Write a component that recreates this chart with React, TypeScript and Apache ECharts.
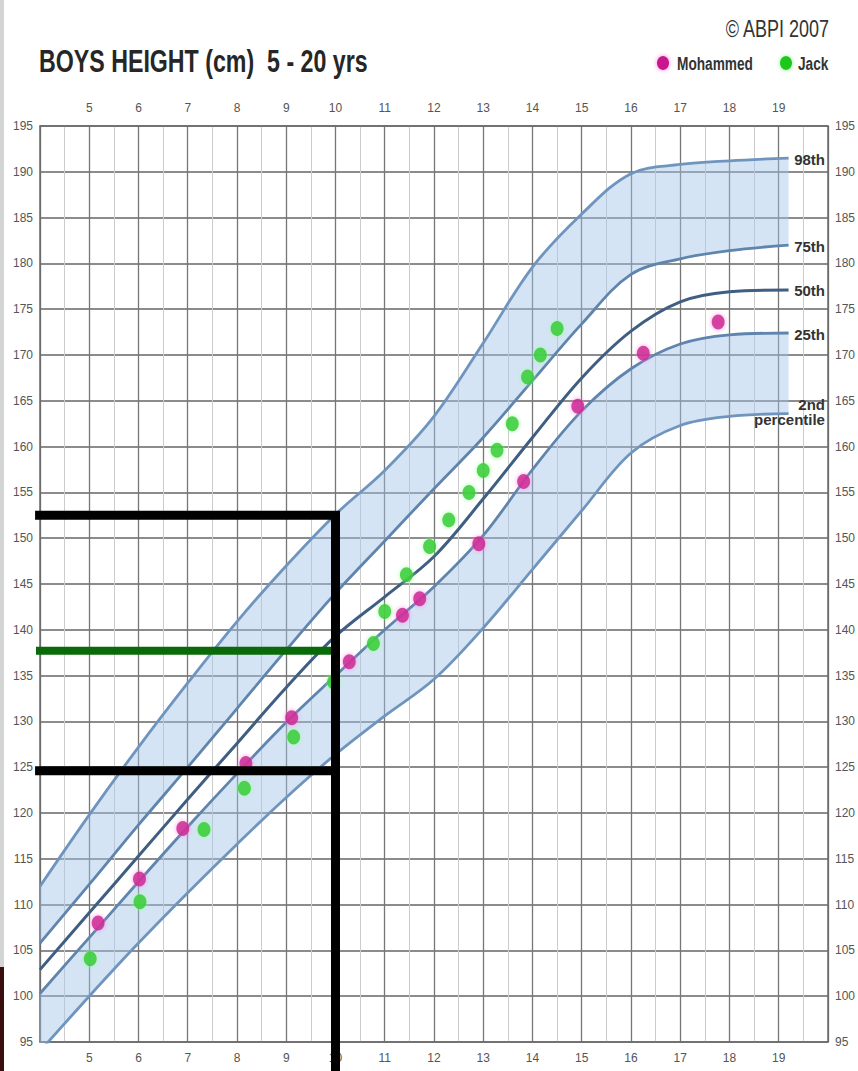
import React, { useEffect, useRef } from "react";
import * as echarts from "echarts";

// ---- data ----
const ages = [4, 5, 6, 7, 8, 9, 10, 11, 12, 13, 14, 15, 16, 17, 18, 19.2];
const p98 = [112.0, 119.8, 127.2, 134.2, 140.9, 147.0, 152.6, 157.4, 163.3, 171.3, 179.6, 185.4, 189.8, 190.8, 191.2, 191.5];
const p75 = [105.8, 112.2, 118.7, 125.0, 131.4, 137.8, 144.0, 149.7, 155.4, 161.0, 167.2, 173.4, 178.8, 180.5, 181.4, 182.0];
const p50 = [102.9, 109.1, 115.3, 121.5, 127.6, 133.7, 139.3, 143.6, 148.0, 154.3, 161.0, 167.5, 172.6, 175.8, 176.9, 177.1];
const p25 = [100.3, 106.4, 112.5, 118.5, 124.3, 129.9, 135.0, 140.0, 144.7, 150.3, 157.5, 163.9, 168.5, 171.2, 172.2, 172.4];
const p2 = [94.0, 100.0, 105.8, 111.3, 116.6, 121.7, 126.4, 130.6, 134.6, 140.2, 146.6, 153.0, 159.3, 162.3, 163.3, 163.6];
const percentileNames = ["98th", "75th", "50th", "25th", "2nd"];

const mohammedAges = [5.18, 6.02, 6.9, 8.18, 9.11, 10.28, 11.36, 11.71, 12.91, 13.82, 14.92, 16.25, 17.77];
const mohammedHeights = [108.0, 112.8, 118.3, 125.4, 130.4, 136.5, 141.6, 143.4, 149.4, 156.2, 164.4, 170.2, 173.6];
const jackAges = [5.02, 6.03, 7.33, 8.15, 9.15, 9.96, 10.77, 11.0, 11.44, 11.91, 12.3, 12.71, 13.0, 13.28, 13.59, 13.9, 14.16, 14.5];
const jackHeights = [104.1, 110.3, 118.2, 122.7, 128.3, 134.3, 138.5, 142.0, 146.0, 149.1, 152.0, 155.0, 157.4, 159.6, 162.5, 167.6, 170.0, 172.9];

const ageTickLabels = [5, 6, 7, 8, 9, 10, 11, 12, 13, 14, 15, 16, 17, 18, 19];
const heightTickLabels = [95, 100, 105, 110, 115, 120, 125, 130, 135, 140, 145, 150, 155, 160, 165, 170, 175, 180, 185, 190, 195];

// guide lines drawn on the chart (age / height values)
const guideAge = 10;
const guideStartAge = 3.9;
const guideEndHeight = 91.5;
const blackUpperHeight = 152.5;
const blackLowerHeight = 124.6;
const greenHeight = 137.7;

const FONT = "'Liberation Sans', Arial, sans-serif";
const NARROW = "'Liberation Sans Narrow', 'Arial Narrow', 'Liberation Sans', sans-serif";

const BAND = "rgba(160,195,232,0.45)";
const LINE_LIGHT = "#6f95bf";
const LINE_MID = "#5f84ad";
const LINE_DARK = "#3f5e82";
const MAGENTA = "#c8148c";
const GREEN = "#1ec81e";

const pts = (ys: number[]) => ages.map((a, i) => [a, ys[i]]);
// height first, age second (encode swaps them) so that stacking happens on the height dimension
const ptsHA = (ys: number[]) => ages.map((a, i) => [ys[i], a]);
const diffHA = (a: number[], b: number[]) => ages.map((x, i) => [+(a[i] - b[i]).toFixed(2), x]);
const pairs = (xs: number[], ys: number[]) => xs.map((x, i) => [x, ys[i]]);

const SMOOTH = 0.35;

function buildOption(): any {
  const axisLabelStyle = { color: "#555", fontSize: 12, fontFamily: NARROW };
  const xLabel = (v: number) => (ageTickLabels.indexOf(v) >= 0 ? String(v) : "");
  const yLabel = (v: number) => (heightTickLabels.indexOf(v) >= 0 ? String(v) : "");
  const bandBase = (name: string, stack: string, ys: number[]) => ({
    type: "line", name, stack, data: ptsHA(ys), encode: { x: 1, y: 0 }, symbol: "none", smooth: SMOOTH,
    lineStyle: { opacity: 0 }, silent: true, z: 1,
  });
  const bandTop = (name: string, stack: string, top: number[], base: number[]) => ({
    type: "line", name, stack, data: diffHA(top, base), encode: { x: 1, y: 0 }, symbol: "none", smooth: SMOOTH,
    lineStyle: { opacity: 0 }, areaStyle: { color: BAND, opacity: 1 }, silent: true, z: 1,
  });
  const pLine = (name: string, ys: number[], color: string, width: number) => ({
    type: "line", name, data: pts(ys), symbol: "none", smooth: SMOOTH,
    lineStyle: { color, width }, silent: true, z: 3,
  });
  const guide = (name: string, data: number[][], color: string, width: number) => ({
    type: "line", name, data, symbol: "none", clip: false, silent: true, z: 10,
    lineStyle: { color, width, cap: "butt", join: "miter" },
  });
  return {
    animation: false,
    backgroundColor: "#ffffff",
    grid: { left: 40, right: 28, top: 126, bottom: 29 },
    xAxis: [
      {
        type: "value", min: 4, max: 20, interval: 1, position: "bottom",
        axisLine: { show: true, lineStyle: { color: "#6a6a6a", width: 1.5 } },
        axisTick: { show: false },
        axisLabel: { ...axisLabelStyle, margin: 10, formatter: xLabel },
        splitLine: { show: true, lineStyle: { color: "#767676", width: 1.3 } },
        minorTick: { show: false, splitNumber: 2 },
        minorSplitLine: { show: true, lineStyle: { color: "#cccccc", width: 1 } },
      },
      {
        type: "value", min: 4, max: 20, interval: 1, position: "top",
        axisLine: { show: true, lineStyle: { color: "#6a6a6a", width: 1.5 } },
        axisTick: { show: false },
        axisLabel: { ...axisLabelStyle, margin: 12, formatter: xLabel },
        splitLine: { show: false },
      },
    ],
    yAxis: [
      {
        type: "value", min: 95, max: 195, interval: 5, position: "left",
        axisLine: { show: true, lineStyle: { color: "#6a6a6a", width: 1.5 } },
        axisTick: { show: false },
        axisLabel: { ...axisLabelStyle, margin: 7, formatter: yLabel },
        splitLine: { show: true, lineStyle: { color: "#666666", width: 1.6 } },
      },
      {
        type: "value", min: 95, max: 195, interval: 5, position: "right",
        axisLine: { show: true, lineStyle: { color: "#6a6a6a", width: 1.5 } },
        axisTick: { show: false },
        axisLabel: { ...axisLabelStyle, margin: 7, formatter: yLabel },
        splitLine: { show: false },
      },
    ],
    series: [
      bandBase("base75", "upper", p75),
      bandTop("band98", "upper", p98, p75),
      bandBase("base2", "lower", p2),
      bandTop("band25", "lower", p25, p2),
      pLine(percentileNames[0], p98, LINE_LIGHT, 2.8),
      pLine(percentileNames[1], p75, LINE_MID, 2.8),
      pLine(percentileNames[2], p50, LINE_DARK, 3),
      pLine(percentileNames[3], p25, LINE_MID, 2.8),
      pLine(percentileNames[4], p2, LINE_LIGHT, 2.8),
      {
        type: "scatter", name: "Mohammed", data: pairs(mohammedAges, mohammedHeights),
        symbol: "circle", symbolSize: [13, 15], z: 5,
        itemStyle: { color: MAGENTA, shadowBlur: 5, shadowColor: "rgba(255,120,220,0.9)" },
      },
      {
        type: "scatter", name: "Jack", data: pairs(jackAges, jackHeights),
        symbol: "circle", symbolSize: [13, 15], z: 5,
        itemStyle: { color: GREEN, shadowBlur: 5, shadowColor: "rgba(150,255,150,0.95)" },
      },
      guide("greenGuide", [[guideStartAge, greenHeight], [guideAge, greenHeight]], "#0a6a0a", 8),
      guide("lowerGuide", [[guideStartAge, blackLowerHeight], [guideAge, blackLowerHeight]], "#000000", 9),
      guide("upperGuide", [[guideStartAge, blackUpperHeight], [guideAge, blackUpperHeight], [guideAge, guideEndHeight]], "#000000", 9),
    ],
  };
}

export default function App() {
  const ref = useRef<HTMLDivElement>(null);
  useEffect(() => {
    if (!ref.current) return;
    const chart = echarts.init(ref.current, null, { renderer: "svg" });
    chart.setOption(buildOption());

    const last = ages.length - 1;
    const rightPx = chart.convertToPixel({ xAxisIndex: 0 }, 20) as number;
    const ends = [p98, p75, p50, p25, p2].map(
      (ys) => chart.convertToPixel({ gridIndex: 0 }, [ages[last], ys[last]]) as number[]
    );
    const labelStyle = { fill: "#333", font: `bold 15px ${FONT}` };
    const pctLabels: any[] = ends.slice(0, 4).map((p, i) => ({
      type: "text", x: rightPx - 3, y: p[1] + 1, z: 20,
      style: { ...labelStyle, text: percentileNames[i], textAlign: "right", textVerticalAlign: "middle" },
    }));
    pctLabels.push({
      type: "text", x: rightPx - 3, y: ends[4][1] - 9, z: 20,
      style: { ...labelStyle, text: percentileNames[4], textAlign: "right", textVerticalAlign: "middle" },
    });
    pctLabels.push({
      type: "text", x: rightPx - 3, y: ends[4][1] + 6, z: 20,
      style: { ...labelStyle, text: "percentile", textAlign: "right", textVerticalAlign: "middle" },
    });

    chart.setOption({
      graphic: [
        { type: "rect", shape: { x: 0, y: 0, width: 4, height: 967 }, style: { fill: "#d3d5d5" }, z: 30 },
        { type: "rect", shape: { x: 0, y: 967, width: 4, height: 104 }, style: { fill: "#3a0e0e" }, z: 30 },
        {
          type: "text", x: 39, y: 61, scaleX: 0.725, z: 20,
          style: { text: "BOYS HEIGHT (cm)  5 - 20 yrs", font: `bold 32px ${FONT}`, fill: "#262626", textAlign: "left", textVerticalAlign: "middle" },
        },
        {
          type: "text", x: 829, y: 29, scaleX: 0.75, z: 20,
          style: { text: "© ABPI 2007", font: `normal 24px ${FONT}`, fill: "#333", textAlign: "right", textVerticalAlign: "middle" },
        },
        {
          type: "ellipse", shape: { cx: 663, cy: 63, rx: 6, ry: 7 }, z: 20,
          style: { fill: MAGENTA, shadowBlur: 5, shadowColor: "rgba(255,120,220,0.9)" },
        },
        {
          type: "text", x: 677, y: 64, scaleX: 0.72, z: 20,
          style: { text: "Mohammed", font: `bold 19px ${FONT}`, fill: "#333", textAlign: "left", textVerticalAlign: "middle" },
        },
        {
          type: "ellipse", shape: { cx: 786, cy: 63, rx: 6, ry: 7 }, z: 20,
          style: { fill: GREEN, shadowBlur: 5, shadowColor: "rgba(150,255,150,0.95)" },
        },
        {
          type: "text", x: 798, y: 64, scaleX: 0.72, z: 20,
          style: { text: "Jack", font: `bold 19px ${FONT}`, fill: "#333", textAlign: "left", textVerticalAlign: "middle" },
        },
        ...pctLabels,
      ],
    });

    return () => chart.dispose();
  }, []);

  return (
    <div
      ref={ref}
      style={{ position: "fixed", left: 0, top: 0, width: 858, height: 1071, background: "#fff" }}
    />
  );
}
